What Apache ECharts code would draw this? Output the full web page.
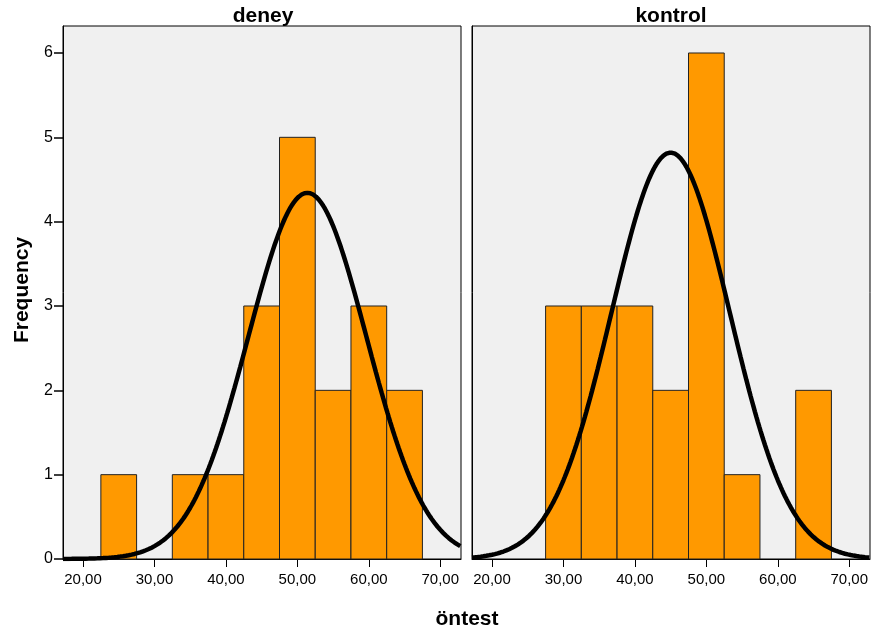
<!DOCTYPE html>
<html>
<head>
<meta charset="utf-8">
<script src="https://cdn.jsdelivr.net/npm/echarts@6/dist/echarts.min.js"></script>
<style>
html,body{margin:0;padding:0;background:#fff;}
#c{width:874px;height:637px;}
</style>
</head>
<body>
<div id="c"></div>
<script>
// ---- data ----
const panels = ['deney', 'kontrol'];
const binStarts = [22.5, 27.5, 32.5, 37.5, 42.5, 47.5, 52.5, 57.5, 62.5];
const binWidth = 5;
const deneyCounts = [1, 0, 1, 1, 3, 5, 2, 3, 2];
const kontrolCounts = [0, 3, 3, 3, 2, 6, 1, 0, 2];
const deneyNormal = { mean: 51.4, sd: 8.27, n: 18 };
const kontrolNormal = { mean: 45.0, sd: 8.28, n: 20 };
const xTicks = [20, 30, 40, 50, 60, 70];
const yTicks = [0, 1, 2, 3, 4, 5, 6];
const xMin = 17.2, xMax = 72.9, yMax = 6.32;

function bins(counts) {
  const out = [];
  counts.forEach((c, i) => { if (c > 0) out.push([binStarts[i], binStarts[i] + binWidth, c]); });
  return out;
}
function normalCurve(p) {
  const pts = [];
  const k = p.n * binWidth / (p.sd * Math.sqrt(2 * Math.PI));
  for (let x = xMin; x <= xMax + 1e-9; x += 0.2) {
    const z = (x - p.mean) / p.sd;
    pts.push([x, k * Math.exp(-0.5 * z * z)]);
  }
  return pts;
}
function renderBar(params, api) {
  const p0 = api.coord([api.value(0), api.value(2)]);
  const p1 = api.coord([api.value(1), 0]);
  return {
    type: 'rect',
    shape: { x: p0[0], y: p0[1], width: p1[0] - p0[0], height: p1[1] - p0[1] },
    style: { fill: '#FF9900', stroke: '#222', lineWidth: 1 }
  };
}

const font = 'Liberation Sans, Arial, sans-serif';
const grids = [
  { left: 63, top: 26, width: 398, height: 533 },
  { left: 472, top: 26, width: 398, height: 533 }
].map(g => Object.assign(g, { show: true, backgroundColor: '#F0F0F0', borderColor: '#000', borderWidth: 1, containLabel: false }));

const xAxes = [0, 1].map(i => ({
  type: 'value', gridIndex: i, min: xMin, max: xMax,
  axisLine: { show: true, lineStyle: { color: '#000', width: 1 } },
  axisTick: { show: true, length: 8, customValues: xTicks, lineStyle: { color: '#000', width: 1 } },
  axisLabel: { customValues: xTicks, color: '#000', fontSize: 15, fontFamily: font, margin: 13,
    formatter: v => v.toFixed(2).replace('.', ',') },
  splitLine: { show: false }
}));
const yAxes = [0, 1].map(i => ({
  type: 'value', gridIndex: i, min: 0, max: yMax,
  axisLine: { show: true, lineStyle: { color: '#000', width: 1 } },
  axisTick: { show: i === 0, length: 9, customValues: yTicks, lineStyle: { color: '#000', width: 1.5 } },
  axisLabel: { show: i === 0, customValues: yTicks, color: '#000', fontSize: 16, fontFamily: font, margin: 10 },
  splitLine: { show: false }
}));

const titleFont = 'bold 21px ' + font;
const option = {
  backgroundColor: '#fff',
  animation: false,
  grid: grids,
  xAxis: xAxes,
  yAxis: yAxes,
  graphic: [
    { type: 'text', x: 263, y: 16, style: { text: panels[0], font: titleFont, fill: '#000', align: 'center', verticalAlign: 'middle' } },
    { type: 'text', x: 671, y: 16, style: { text: panels[1], font: titleFont, fill: '#000', align: 'center', verticalAlign: 'middle' } },
    { type: 'text', x: 22, y: 290, rotation: Math.PI / 2, style: { text: 'Frequency', font: titleFont, fill: '#000', align: 'center', verticalAlign: 'middle' } },
    { type: 'text', x: 467, y: 619, style: { text: 'öntest', font: titleFont, fill: '#000', align: 'center', verticalAlign: 'middle' } }
  ],
  series: [
    { type: 'custom', xAxisIndex: 0, yAxisIndex: 0, data: bins(deneyCounts), renderItem: renderBar, encode: { x: [0, 1], y: 2 } },
    { type: 'custom', xAxisIndex: 1, yAxisIndex: 1, data: bins(kontrolCounts), renderItem: renderBar, encode: { x: [0, 1], y: 2 } },
    { type: 'line', xAxisIndex: 0, yAxisIndex: 0, data: normalCurve(deneyNormal), showSymbol: false, symbol: 'none', clip: true, lineStyle: { color: '#000', width: 4.5 }, z: 5 },
    { type: 'line', xAxisIndex: 1, yAxisIndex: 1, data: normalCurve(kontrolNormal), showSymbol: false, symbol: 'none', clip: true, lineStyle: { color: '#000', width: 4.5 }, z: 5 }
  ]
};
echarts.init(document.getElementById('c')).setOption(option);
</script>
</body>
</html>
